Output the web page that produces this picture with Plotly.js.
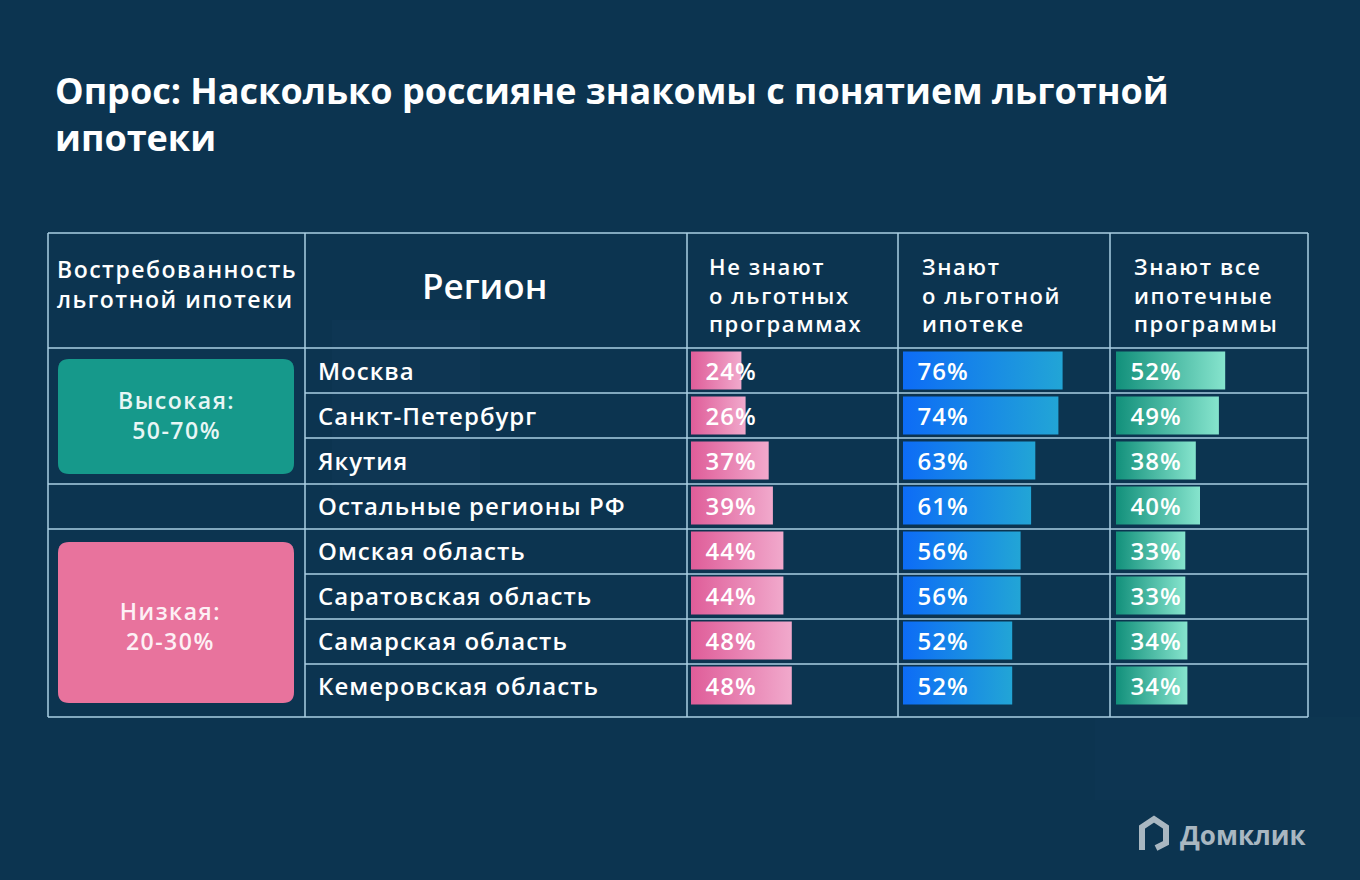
<!DOCTYPE html>
<html><head><meta charset="utf-8">
<script src="https://cdn.plot.ly/plotly-3.0.1.min.js"></script>
<style>html,body{margin:0;padding:0;background:#0c3450;}</style>
</head><body><div id="chart" style="width:1360px;height:880px;"></div>
<script>
const regions = ['Москва','Санкт-Петербург','Якутия','Остальные регионы РФ','Омская область','Саратовская область','Самарская область','Кемеровская область'];
const notKnow = [24,26,37,39,44,44,48,48];
const knowPref = [76,74,63,61,56,56,52,52];
const knowAll = [52,49,38,40,33,33,34,34];
const demandLabels = ['Высокая:<br>50-70%','Низкая:<br>20-30%'];
const demandHeader = 'Востребованность<br>льготной ипотеки';
const regionHeader = 'Регион';
const colHeaders = ['Не знают<br>о льготных<br>программах','Знают<br>о льготной<br>ипотеке','Знают все<br>ипотечные<br>программы'];
const titleText = 'Опрос: Насколько россияне знакомы с понятием льготной<br>ипотеки';
const brand = 'Домклик';

const W = 1360, H = 880;
const px = v => v / W, py = v => 1 - v / H;
const FONT = 'Open Sans';
const LINE = '#aacfe3';

const series = [notKnow, knowPref, knowAll];
const barStarts = [691, 903, 1116];
const barColors = ['#e86ea3', '#1a86e6', '#2fb59c'];
const traces = series.map((vals, i) => ({
  type: 'bar', orientation: 'h', y: regions, x: vals,
  xaxis: i === 0 ? 'x' : 'x' + (i + 1), yaxis: i === 0 ? 'y' : 'y' + (i + 1),
  marker: {color: barColors[i], line: {width: 0}}, width: 0.84, hoverinfo: 'skip', showlegend: false
}));

const layout = {
  width: W, height: H, margin: {l: 0, r: 0, t: 0, b: 0},
  paper_bgcolor: '#0c3450', plot_bgcolor: 'rgba(0,0,0,0)',
  showlegend: false,
  title: {text: titleText, x: px(55), xanchor: 'left', xref: 'paper', y: py(104), yref: 'paper', yanchor: 'top',
    font: {family: FONT, size: 36, color: '#ffffff', weight: 700}},
  shapes: [], annotations: []
};
const yDom = [py(708), py(348)];
for (let i = 0; i < 3; i++) {
  const sx = i === 0 ? '' : (i + 1);
  layout['xaxis' + sx] = {domain: [px(barStarts[i]), px(barStarts[i] + 210)], range: [0, 100], visible: false, fixedrange: true, anchor: 'y' + sx};
  layout['yaxis' + sx] = {domain: yDom, type: 'category', autorange: 'reversed', visible: false, fixedrange: true, anchor: 'x' + sx};
}

// subtle background blocks
const bgRect = (x0, y0, x1, y1, op) => layout.shapes.push({type: 'rect', xref: 'paper', yref: 'paper', x0: px(x0), y0: py(y0), x1: px(x1), y1: py(y1), fillcolor: 'rgba(120,170,210,' + op + ')', line: {width: 0}, layer: 'below'});
bgRect(332, 320, 480, 490, 0.025);
bgRect(1095, 717, 1190, 800, 0.02);
bgRect(1290, 717, 1390, 880, 0.015);

// table lines
const line = (x0, y0, x1, y1) => layout.shapes.push({type: 'line', xref: 'paper', yref: 'paper', x0: px(x0), y0: py(y0), x1: px(x1), y1: py(y1), line: {color: LINE, width: 1.5}, layer: 'below'});
line(48, 233, 1308, 233); line(48, 717, 1308, 717); line(48, 233, 48, 717); line(1308, 233, 1308, 717);
[305, 687, 898, 1110].forEach(x => line(x, 233, x, 717));
line(48, 348, 1308, 348);
[393, 438, 574, 619, 664].forEach(y => line(305, y, 1308, y));
[484, 529].forEach(y => line(48, y, 1308, y));

// rounded boxes
const rrect = (x0, y0, x1, y1, r) => {
  const P = (x, y) => px(x) + ',' + py(y);
  return 'M' + P(x0 + r, y0) + ' L' + P(x1 - r, y0) + ' Q' + P(x1, y0) + ' ' + P(x1, y0 + r) +
    ' L' + P(x1, y1 - r) + ' Q' + P(x1, y1) + ' ' + P(x1 - r, y1) + ' L' + P(x0 + r, y1) +
    ' Q' + P(x0, y1) + ' ' + P(x0, y1 - r) + ' L' + P(x0, y0 + r) + ' Q' + P(x0, y0) + ' ' + P(x0 + r, y0) + ' Z';
};
layout.shapes.push({type: 'path', xref: 'paper', yref: 'paper', path: rrect(58, 359, 294, 474, 11), fillcolor: '#16998b', line: {width: 0}, layer: 'below'});
layout.shapes.push({type: 'path', xref: 'paper', yref: 'paper', path: rrect(58, 542, 294, 703, 11), fillcolor: '#e8739d', line: {width: 0}, layer: 'below'});

const spacing = []; // letter spacing per annotation (px), applied after render
const txt = (x, y, text, size, ls, opt) => {
  layout.annotations.push(Object.assign({
    xref: 'paper', yref: 'paper', x: px(x), y: typeof y === 'number' ? py(y) : y, text: text, showarrow: false,
    xanchor: 'left', yanchor: 'middle', align: 'left',
    font: {family: FONT, size: size, color: '#ffffff', weight: 600}}, opt || {}));
  spacing.push(ls);
};

txt(176, 415, demandLabels[0], 23, 1.5, {xanchor: 'center', align: 'center', font: {family: FONT, size: 23, color: '#e8f6f5', weight: 600}});
txt(170, 626, demandLabels[1], 23, 1.5, {xanchor: 'center', align: 'center', font: {family: FONT, size: 23, color: '#fdf0f5', weight: 600}});

// headers
txt(55, 284, demandHeader, 23, 1.5);
txt(484, 285, regionHeader, 35, 0, {xanchor: 'center', align: 'center'});
[707, 920, 1132].forEach((x, i) => txt(x, 294, colHeaders[i], 22, 1.6));

// row labels and values
regions.forEach((r, j) => {
  txt(316, r, r, 24, 1, {yref: 'y'});
  series.forEach((vals, i) => {
    const sx = i === 0 ? '' : (i + 1);
    layout.annotations.push({xref: 'x' + sx, yref: 'y' + sx, x: 0, xshift: 14, y: r, text: vals[j] + '%', showarrow: false, xanchor: 'left', yanchor: 'middle', font: {family: FONT, size: 24, color: '#ffffff', weight: 600}});
    spacing.push(1);
  });
});

// logo
const P2 = (x, y) => px(x) + ',' + py(y);
layout.shapes.push({type: 'path', xref: 'paper', yref: 'paper', path: 'M' + P2(1142, 850) + ' L' + P2(1142, 827) + ' L' + P2(1154, 819) + ' L' + P2(1166, 827) + ' L' + P2(1166, 843) + ' L' + P2(1156, 848), line: {color: '#a9b7c1', width: 6}, layer: 'above'});
txt(1178, 835, brand, 26, 0, {font: {family: FONT, size: 26, color: '#a9b7c1', weight: 700}});

Plotly.newPlot('chart', traces, layout, {displayModeBar: false, staticPlot: true}).then(gd => {
  const svg = gd.querySelector('.main-svg');
  const NS = 'http://www.w3.org/2000/svg';
  let defs = svg.querySelector('defs');
  const grads = [['#df5d99', '#f1a9cc'], ['#0d6cf6', '#22a5d6'], ['#12907b', '#86e4cd']];
  grads.forEach((g, i) => {
    const lg = document.createElementNS(NS, 'linearGradient');
    lg.setAttribute('id', 'bg' + i); lg.setAttribute('x1', '0'); lg.setAttribute('x2', '1'); lg.setAttribute('y1', '0'); lg.setAttribute('y2', '0');
    g.forEach((c, k) => { const s = document.createElementNS(NS, 'stop'); s.setAttribute('offset', k ? '1' : '0'); s.setAttribute('stop-color', c); lg.appendChild(s); });
    defs.appendChild(lg);
  });
  gd.querySelectorAll('.barlayer .trace').forEach((t, i) => {
    t.querySelectorAll('.point path').forEach(p => { p.style.fill = 'url(#bg' + i + ')'; });
  });
  gd.querySelectorAll('.annotation').forEach(a => {
    const idx = +a.getAttribute('data-index');
    const t = a.querySelector('text.annotation-text');
    if (t && spacing[idx]) t.style.letterSpacing = spacing[idx] + 'px';
  });
});
</script></body></html>
